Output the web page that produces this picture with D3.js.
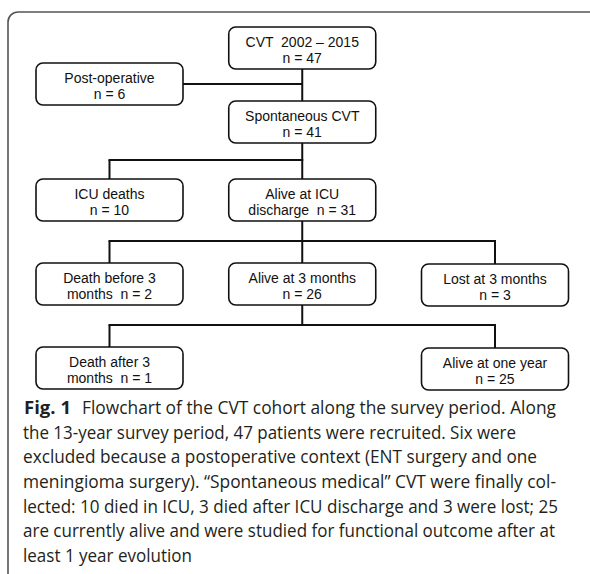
<!DOCTYPE html>
<html>
<head>
<meta charset="utf-8">
<script src="https://cdn.jsdelivr.net/npm/d3@7"></script>
<style>
  html, body { margin: 0; padding: 0; background: #fff; }
  svg { display: block; }
</style>
</head>
<body>
<svg id="chart" width="590" height="574"></svg>
<script>
// ---- DATA ----
const nodeTitles = ["CVT  2002 \u2013 2015", "Post-operative", "Spontaneous CVT", "ICU deaths",
  "Alive at ICU", "Death before 3", "Alive at 3 months", "Lost at 3 months", "Death after 3", "Alive at one year"];
const nodeSubPrefix = ["", "", "", "", "discharge  ", "months  ", "", "", "months  ", ""];
const nodeCounts = [47, 6, 41, 10, 31, 2, 26, 3, 1, 25];
const nodeColumns = [1, 0, 1, 0, 1, 0, 1, 2, 0, 2];
const nodeStages = ["start", "excluded", "spontaneous", "icu", "icu", "threeMonths", "threeMonths", "threeMonths", "oneYear", "oneYear"];
const nodeParents = [null, 0, 0, 2, 2, 4, 4, 4, 6, 6];
const captionBold = "Fig. 1";
const captionLines = [
  "Flowchart of the CVT cohort along the survey period. Along",
  "the 13-year survey period, 47 patients were recruited. Six were",
  "excluded because a postoperative context (ENT surgery and one",
  "meningioma surgery). \u201cSpontaneous medical\u201d CVT were finally col-",
  "lected: 10 died in ICU, 3 died after ICU discharge and 3 were lost; 25",
  "are currently alive and were studied for functional outcome after at",
  "least 1 year evolution"
];
const captionLineEnds = [556, 516, 537, 556, 558, 555, 192];

// ---- LAYOUT ----
const svg = d3.select("#chart");
const boxW = 147, boxH = 42;
const colX = d3.scalePoint().domain([0, 1, 2]).range([109.5, 495]);
const stageTop = d3.scaleOrdinal()
  .domain(["start", "excluded", "spontaneous", "icu", "threeMonths", "oneYear"])
  .range([27, 63, 101, 179, 263, 347]);
const captionY = d3.scaleLinear().domain([0, 6]).range([414, 562]);

const nodes = nodeTitles.map((t, i) => ({
  i, title: t, sub: nodeSubPrefix[i] + "n = " + nodeCounts[i],
  cx: colX(nodeColumns[i]), top: stageTop(nodeStages[i]), parent: nodeParents[i]
}));
nodes.forEach(n => {
  n.top = n.top + (nodeColumns[n.i] === 2 ? 1 : 0);
  n.bottom = n.top + boxH; n.cy = n.top + boxH / 2;
});

// frame
svg.append("rect").attr("x", 8).attr("y", 12).attr("width", 620).attr("height", 572)
  .attr("rx", 10).attr("fill", "none").attr("stroke", "#555").attr("stroke-width", 1.6);

// connectors
const lineG = svg.append("g").attr("stroke", "#111").attr("stroke-width", 2).attr("fill", "none");
const byParent = d3.group(nodes.filter(n => n.parent !== null), n => n.parent);
byParent.forEach((kids, pi) => {
  const p = nodes[pi];
  const same = kids.filter(k => k.cx === p.cx);
  const side = kids.filter(k => k.cx !== p.cx);
  if (pi === 0) {
    const c = same[0];
    lineG.append("line").attr("x1", p.cx).attr("x2", p.cx).attr("y1", p.bottom).attr("y2", c.top);
    side.forEach(s => {
      lineG.append("line").attr("x1", s.cx + boxW / 2).attr("x2", p.cx).attr("y1", s.cy).attr("y2", s.cy);
    });
    return;
  }
  const childTop = d3.min(kids, k => k.top);
  const busY = (p.bottom + childTop) / 2 - 1;
  lineG.append("line").attr("x1", p.cx).attr("x2", p.cx).attr("y1", p.bottom).attr("y2", busY);
  const xs = kids.map(k => k.cx).concat([p.cx]);
  lineG.append("line").attr("x1", d3.min(xs) - 1).attr("x2", d3.max(xs) + 1).attr("y1", busY).attr("y2", busY);
  kids.forEach(k => {
    lineG.append("line").attr("x1", k.cx).attr("x2", k.cx).attr("y1", busY).attr("y2", k.top);
  });
});

// boxes
const boxG = svg.append("g").selectAll("g").data(nodes).join("g");
boxG.append("rect")
  .attr("x", d => d.cx - boxW / 2).attr("y", d => d.top)
  .attr("width", boxW).attr("height", boxH).attr("rx", 7)
  .attr("fill", "#fff").attr("stroke", "#111").attr("stroke-width", 1.6);
boxG.append("text")
  .attr("x", d => d.cx).attr("y", d => d.cy - 1.5)
  .attr("text-anchor", "middle").attr("font-family", "'Liberation Sans', Arial, sans-serif")
  .attr("font-size", 14).attr("fill", "#111").style("white-space", "pre")
  .text(d => d.title);
boxG.append("text")
  .attr("x", d => d.cx).attr("y", d => d.cy + 14.5)
  .attr("text-anchor", "middle").attr("font-family", "'Liberation Sans', Arial, sans-serif")
  .attr("font-size", 14).attr("fill", "#111").style("white-space", "pre")
  .text(d => d.sub);

// caption
const capG = svg.append("g").attr("font-family", "'Open Sans', sans-serif").attr("font-size", 18).attr("fill", "#231f20");
capG.append("text").attr("x", 24).attr("y", captionY(0)).attr("font-weight", "bold")
  .attr("textLength", 47).attr("lengthAdjust", "spacingAndGlyphs").text(captionBold);
captionLines.forEach((line, i) => {
  const x0 = i === 0 ? 82 : 23;
  capG.append("text").attr("x", x0).attr("y", captionY(i))
    .attr("textLength", captionLineEnds[i] - x0).attr("lengthAdjust", "spacingAndGlyphs")
    .text(line);
});
</script>
</body>
</html>
